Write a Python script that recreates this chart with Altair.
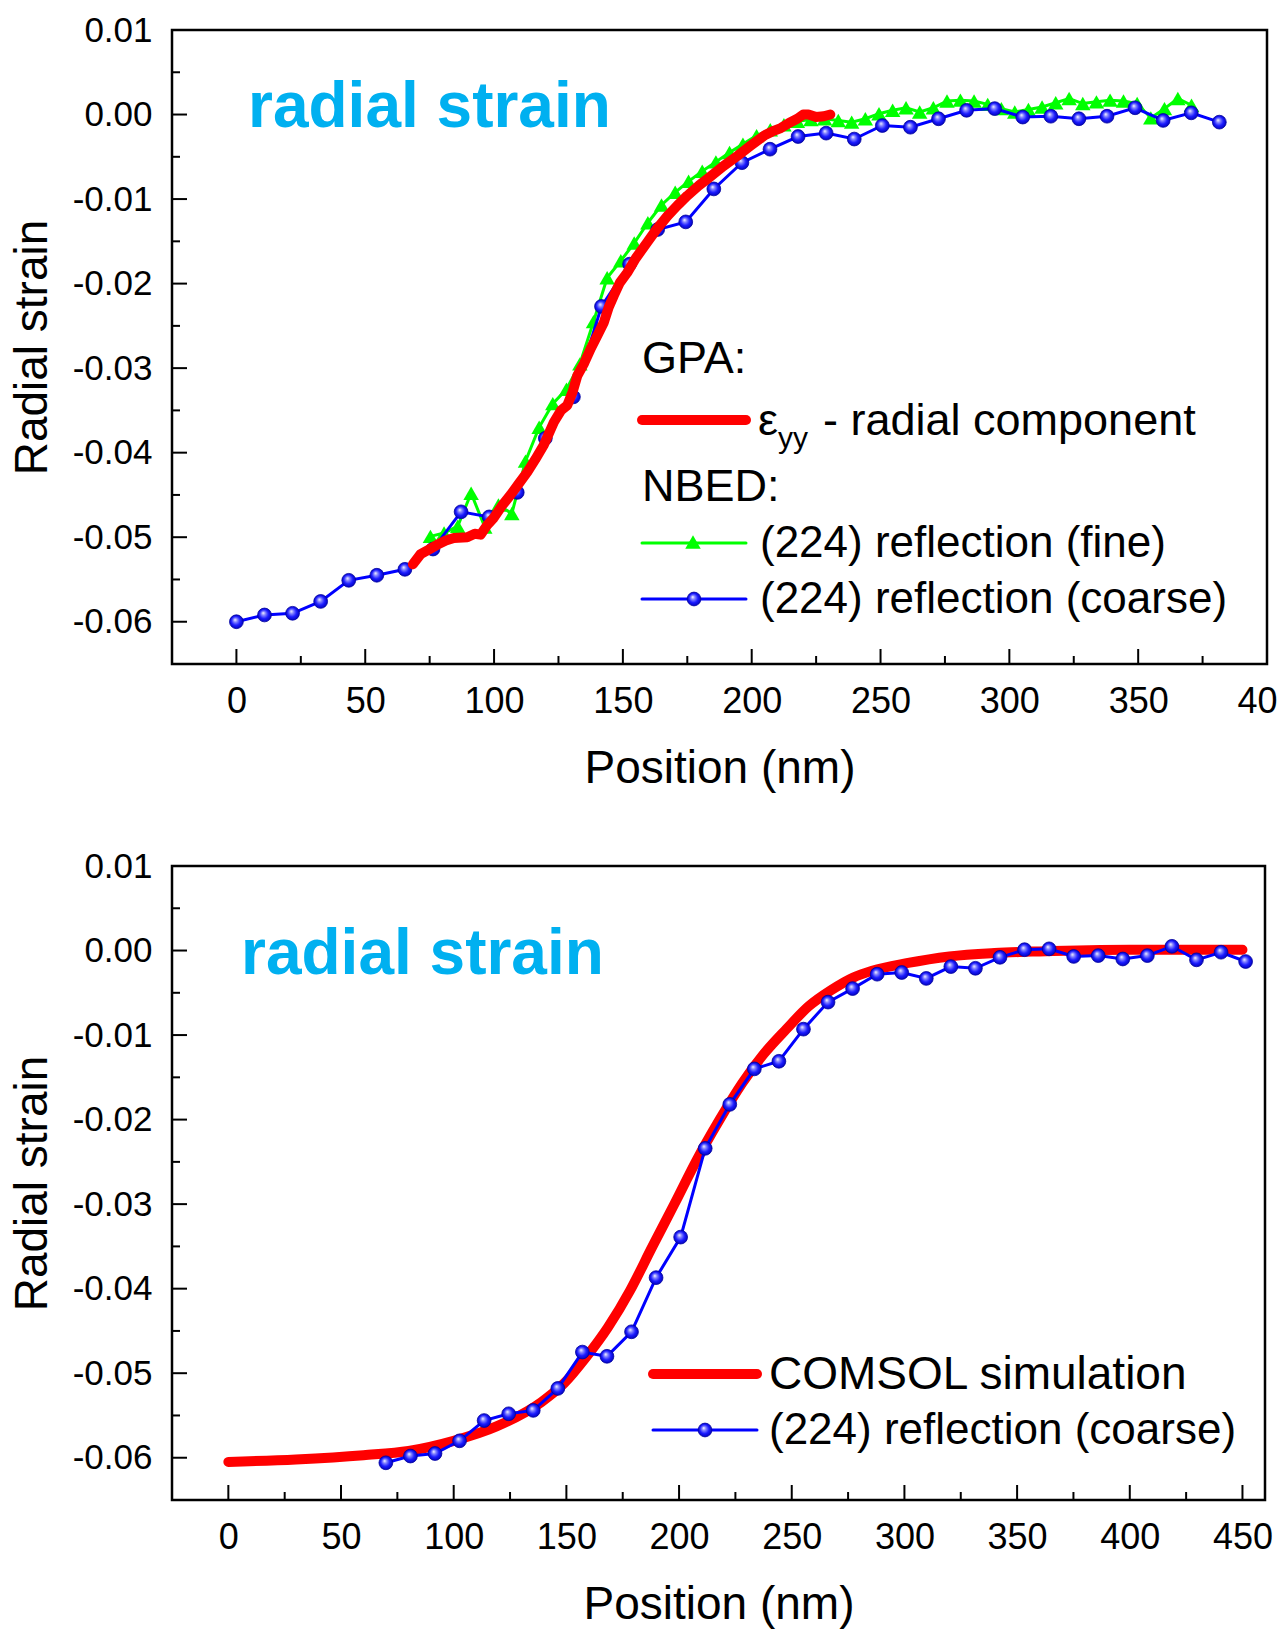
import altair as alt
import pandas as pd

FONT = "Liberation Sans"

# ---------------- data ----------------
# Top panel: NBED (224) coarse
top_coarse_x = [0, 10.9, 21.8, 32.7, 43.6, 54.5, 65.4, 76.3, 87.2, 98.1, 109.0, 119.9,
                130.8, 141.7, 152.6, 163.5, 174.4, 185.3, 196.2, 207.1, 218.0, 228.9,
                239.8, 250.7, 261.6, 272.5, 283.4, 294.3, 305.2, 316.1, 327.0, 337.9,
                348.8, 359.7, 370.6, 381.5]
top_coarse_y = [-0.0600, -0.0592, -0.0590, -0.0576, -0.0551, -0.0545, -0.0538, -0.0514,
                -0.0470, -0.0476, -0.0447, -0.0383, -0.0334, -0.0227, -0.0177, -0.0136,
                -0.0127, -0.0088, -0.0057, -0.0041, -0.0026, -0.0022, -0.0029, -0.0013,
                -0.0015, -0.0005, 0.0005, 0.0007, -0.0003, -0.0002, -0.0005, -0.0002,
                0.0008, -0.0007, 0.0002, -0.0009]

# Top panel: NBED (224) fine
top_fine_x = [75.3, 80.6, 85.9, 91.1, 96.4, 101.7, 106.9, 112.2, 117.5, 122.8, 128.1,
              133.3, 138.6, 143.9, 149.2, 154.4, 159.7, 165.0, 170.3, 175.5, 180.8,
              186.1, 191.4, 196.6, 201.9, 207.2, 212.5, 217.7, 223.0, 228.3, 233.6,
              238.8, 244.1, 249.4, 254.7, 259.9, 265.2, 270.5, 275.8, 281.0, 286.3,
              291.6, 296.9, 302.1, 307.4, 312.7, 318.0, 323.2, 328.5, 333.8, 339.1,
              344.3, 349.6, 354.9, 360.2, 365.4, 370.7]
top_fine_y = [-0.0499, -0.0495, -0.0487, -0.0448, -0.0488, -0.0462, -0.0472, -0.0410,
              -0.0370, -0.0342, -0.0325, -0.0295, -0.0245, -0.0193, -0.0173, -0.0152,
              -0.0128, -0.0107, -0.0092, -0.0079, -0.0067, -0.0056, -0.0045, -0.0035,
              -0.0025, -0.0018, -0.0012, -0.0008, -0.0006, -0.0005, -0.0007, -0.0009,
              -0.0005, 0.0001, 0.0005, 0.0008, 0.0003, 0.0008, 0.0016, 0.0017, 0.0016,
              0.0012, 0.0007, 0.0003, 0.0006, 0.0009, 0.0014, 0.0019, 0.0013, 0.0015,
              0.0017, 0.0016, 0.0013, -0.0004, 0.0007, 0.0019, 0.0011]

# Top panel: GPA eps_yy
top_gpa_x = [68.5, 71.5, 74.5, 77.9, 81.3, 84.4, 89.6, 92.5, 94.8, 97.5, 99.9, 103.0,
             106.4, 109.5, 112.9, 116.0, 119.3, 123.2, 126.0, 128.4, 130.5, 132.3,
             135.0, 137.5, 140.0, 142.6, 144.5, 146.5, 148.8, 151.7, 155.0, 159.5,
             163.0, 167.3, 171.0, 175.0, 179.5, 184.1, 189.0, 194.4, 199.5, 204.8,
             208.0, 211.3, 214.5, 217.7, 220.0, 222.0, 225.0, 228.0, 230.5]
top_gpa_y = [-0.0532, -0.0520, -0.0515, -0.0509, -0.0504, -0.0501, -0.0500, -0.0496,
             -0.0497, -0.0485, -0.0477, -0.0463, -0.0450, -0.0437, -0.0423, -0.0408,
             -0.0391, -0.0364, -0.0350, -0.0344, -0.0328, -0.0309, -0.0294, -0.0277,
             -0.0262, -0.0246, -0.0228, -0.0214, -0.0199, -0.0187, -0.0170, -0.0151,
             -0.0136, -0.0120, -0.0108, -0.0096, -0.0084, -0.0073, -0.0061, -0.0049,
             -0.0037, -0.0025, -0.0020, -0.0016, -0.0010, -0.0005, 0.0000, 0.0000,
             -0.0003, -0.0002, 0.0000]

# Bottom panel: NBED (224) coarse
bot_coarse_x = [69.9, 80.8, 91.7, 102.6, 113.5, 124.4, 135.3, 146.2, 157.1, 168.0, 178.9,
                189.8, 200.7, 211.6, 222.5, 233.4, 244.3, 255.2, 266.1, 277.0, 287.9,
                298.8, 309.7, 320.6, 331.5, 342.4, 353.3, 364.2, 375.1, 386.0, 396.9,
                407.8, 418.7, 429.6, 440.5, 451.4]
bot_coarse_y = [-0.0606, -0.0598, -0.0595, -0.0580, -0.0556, -0.0548, -0.0544, -0.0518,
                -0.0475, -0.0480, -0.0451, -0.0387, -0.0339, -0.0234, -0.0182, -0.0140,
                -0.0131, -0.0093, -0.0061, -0.0045, -0.0028, -0.0026, -0.0033, -0.0019,
                -0.0021, -0.0008, 0.0001, 0.0002, -0.0007, -0.0006, -0.0010, -0.0006,
                0.0005, -0.0011, -0.0002, -0.0013]

# Bottom panel: COMSOL simulation
bot_sim_x = [0, 30, 60, 80, 100, 119, 139, 149, 158.5, 168.4, 178.3, 188.2, 198.1, 208,
             218, 228, 237.7, 247.6, 257.5, 267.4, 277.3, 285.7, 301, 320, 340, 360,
             400, 450]
bot_sim_y = [-0.0605, -0.0602, -0.0597, -0.0592, -0.0580, -0.0563, -0.0534, -0.0512,
             -0.0482, -0.0446, -0.0402, -0.0350, -0.0299, -0.0247, -0.0200, -0.0157,
             -0.0122, -0.0093, -0.0066, -0.0047, -0.0032, -0.0024, -0.0015, -0.0007,
             -0.0003, -0.0001, 0.0001, 0.0001]

# Axes / ticks
top_x_major = [0, 50, 100, 150, 200, 250, 300, 350, 400]
top_x_minor = [25, 75, 125, 175, 225, 275, 325, 375]
bot_x_major = [0, 50, 100, 150, 200, 250, 300, 350, 400, 450]
bot_x_minor = [25, 75, 125, 175, 225, 275, 325, 375, 425]
y_major = [-0.06, -0.05, -0.04, -0.03, -0.02, -0.01, 0.0, 0.01]
y_minor = [-0.055, -0.045, -0.035, -0.025, -0.015, -0.005, 0.005]

# Texts
panel_label = ["radial strain"]
top_legend_heads = ["GPA:", "NBED:"]
top_legend_labels = ["\u03b5", "yy", "- radial component",
                     "(224) reflection (fine)", "(224) reflection (coarse)"]
bot_legend_labels = ["COMSOL simulation", "(224) reflection (coarse)"]

RED = "#ff0000"
GREEN = "#00ff00"
BLUE = "#0000ff"
CYAN = "#00b0f0"

W_TOP, W_BOT, H = 1095, 1093, 634

blue_ball = alt.RadialGradient(
    gradient="radial",
    x1=0.4, y1=0.35, r1=0.0, x2=0.5, y2=0.5, r2=0.55,
    stops=[alt.GradientStop(offset=0.0, color="#ffffff"),
           alt.GradientStop(offset=0.25, color="#8a8aff"),
           alt.GradientStop(offset=0.6, color="#1a1aff"),
           alt.GradientStop(offset=1.0, color="#0000b0")],
)
BALL_SIZE = 190
TRI_SIZE = 240


def axes(xdom, xvals, cut_last=None):
    xs = alt.Scale(domain=xdom, nice=False, zero=False)
    ys = alt.Scale(domain=[-0.065, 0.01], nice=False, zero=False)
    xkw = dict(values=xvals, title="Position (nm)", grid=False, ticks=False,
               domain=False, labelFontSize=36, labelPadding=20, titleFontSize=46,
               titlePadding=27, labelFont=FONT, titleFont=FONT, labelColor="black",
               titleColor="black", titleFontWeight="normal", labelFlush=False,
               labelOverlap=False)
    if cut_last is not None:
        # the last label is cut by the right edge of the figure in the original
        test = f"datum.value == {cut_last}"
        xkw["labelExpr"] = f"{test} ? slice(datum.label, 0, 2) : datum.label"
        xkw["labelAlign"] = {"condition": {"test": test, "value": "right"}, "value": "center"}
        xkw["labelOffset"] = {"condition": {"test": test, "value": 10}, "value": 0}
    xa = alt.Axis(**xkw)
    ya = alt.Axis(values=y_major, title="Radial strain", grid=False, ticks=False,
                  domain=False, labelFontSize=35, labelPadding=20, titleFontSize=46,
                  titlePadding=16, labelFont=FONT, titleFont=FONT, labelColor="black",
                  titleColor="black", titleFontWeight="normal", labelFlush=False,
                  labelOverlap=False,
                  labelExpr="replace(format(datum.value, '.2f'), '\u2212', '-')")

    def X(f):
        return alt.X(f"{f}:Q", scale=xs, axis=xa)

    def Y(f):
        return alt.Y(f"{f}:Q", scale=ys, axis=ya)
    return X, Y


def tick_layers(X, Y, xmaj, xmin):
    out = []
    for vals, ln in ((xmaj, 15), (xmin, 8)):
        out.append(alt.Chart(pd.DataFrame({"v": vals})).mark_rule(
            color="black", strokeWidth=2).encode(
            x=X("v"), y=alt.value(H), y2=alt.value(H - ln)))
    for vals, ln in ((y_major, 15), (y_minor, 8)):
        out.append(alt.Chart(pd.DataFrame({"v": vals})).mark_rule(
            color="black", strokeWidth=2).encode(
            y=Y("v"), x=alt.value(0), x2=alt.value(ln)))
    return out


def text(label, px, py, size, color="black", weight="normal"):
    return alt.Chart(pd.DataFrame({"t": [label]})).mark_text(
        align="left", baseline="alphabetic", font=FONT, fontSize=size,
        fontWeight=weight, color=color).encode(
        x=alt.value(px), y=alt.value(py), text="t:N")


def seg(x1, x2, y, color, width):
    return alt.Chart(pd.DataFrame({"k": [0]})).mark_rule(
        color=color, strokeWidth=width, strokeCap="round").encode(
        x=alt.value(x1), x2=alt.value(x2), y=alt.value(y))


def ball(px, py):
    return alt.Chart(pd.DataFrame({"k": [0]})).mark_point(
        shape="circle", filled=True, fill=blue_ball, size=BALL_SIZE, opacity=1,
        stroke="#0000a0", strokeWidth=0.8).encode(x=alt.value(px), y=alt.value(py))


def tri(px, py):
    return alt.Chart(pd.DataFrame({"k": [0]})).mark_point(
        shape="triangle-up", filled=True, color=GREEN, size=TRI_SIZE, opacity=1).encode(
        x=alt.value(px), y=alt.value(py))


# ---------------- top panel ----------------
Xt, Yt = axes([-25, 400], top_x_major, cut_last=400)
df_tc = pd.DataFrame({"x": top_coarse_x, "y": top_coarse_y})
df_tf = pd.DataFrame({"x": top_fine_x, "y": top_fine_y})
df_tg = pd.DataFrame({"x": top_gpa_x, "y": top_gpa_y})

fine_line = alt.Chart(df_tf).mark_line(color=GREEN, strokeWidth=3).encode(x=Xt("x"), y=Yt("y"))
fine_pts = alt.Chart(df_tf).mark_point(shape="triangle-up", filled=True, color=GREEN,
                                       size=TRI_SIZE, opacity=1).encode(x=Xt("x"), y=Yt("y"))
coarse_line = alt.Chart(df_tc).mark_line(color=BLUE, strokeWidth=3).encode(x=Xt("x"), y=Yt("y"))
coarse_pts = alt.Chart(df_tc).mark_point(shape="circle", filled=True, fill=blue_ball,
                                         size=BALL_SIZE, opacity=1, stroke="#0000a0",
                                         strokeWidth=0.8).encode(x=Xt("x"), y=Yt("y"))
gpa_line = alt.Chart(df_tg).mark_line(color=RED, strokeWidth=10, strokeCap="round",
                                      strokeJoin="round").encode(x=Xt("x"), y=Yt("y"))

top_layers = tick_layers(Xt, Yt, top_x_major, top_x_minor) + [
    fine_line, fine_pts, coarse_line, coarse_pts, gpa_line,
    text(panel_label[0], 76, 97, 64, CYAN, "bold"),
    text(top_legend_heads[0], 470, 343, 45),
    seg(470, 574, 390, RED, 10),
    text(top_legend_labels[0], 586, 405, 45),
    text(top_legend_labels[1], 606, 418, 30),
    text(top_legend_labels[2], 651, 405, 45),
    text(top_legend_heads[1], 470, 471, 45),
    seg(470, 574, 513, GREEN, 3), tri(521, 512),
    text(top_legend_labels[3], 588, 527, 44),
    seg(470, 574, 569, BLUE, 3), ball(522, 569),
    text(top_legend_labels[4], 588, 583, 44),
]
top = alt.layer(*top_layers).properties(width=W_TOP, height=H)

# ---------------- bottom panel ----------------
Xb, Yb = axes([-25, 460], bot_x_major)
df_bc = pd.DataFrame({"x": bot_coarse_x, "y": bot_coarse_y})
df_bs = pd.DataFrame({"x": bot_sim_x, "y": bot_sim_y})

sim_line = alt.Chart(df_bs).mark_line(color=RED, strokeWidth=10, strokeCap="round",
                                      interpolate="monotone").encode(x=Xb("x"), y=Yb("y"))
bc_line = alt.Chart(df_bc).mark_line(color=BLUE, strokeWidth=3).encode(x=Xb("x"), y=Yb("y"))
bc_pts = alt.Chart(df_bc).mark_point(shape="circle", filled=True, fill=blue_ball,
                                     size=BALL_SIZE, opacity=1, stroke="#0000a0",
                                     strokeWidth=0.8).encode(x=Xb("x"), y=Yb("y"))

bot_layers = tick_layers(Xb, Yb, bot_x_major, bot_x_minor) + [
    sim_line, bc_line, bc_pts,
    text(panel_label[0], 69, 108, 64, CYAN, "bold"),
    seg(481, 585, 508, RED, 10),
    text(bot_legend_labels[0], 597, 523, 46),
    seg(481, 585, 564, BLUE, 3), ball(533, 564),
    text(bot_legend_labels[1], 597, 578, 44),
]
bottom = alt.layer(*bot_layers).properties(width=W_BOT, height=H)

chart = alt.vconcat(top, bottom, spacing=54).configure(
    padding={"top": 11, "left": 7, "right": 0, "bottom": 0},
    background="white",
).configure_view(stroke="black", strokeWidth=2.5)

chart.save("out.html", embed_options={"renderer": "svg", "actions": False})
